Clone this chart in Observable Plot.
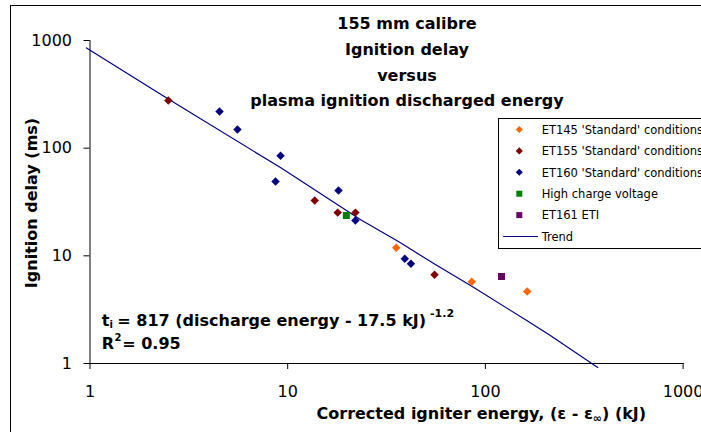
<!DOCTYPE html>
<html><head><meta charset="utf-8">
<script src="https://cdn.jsdelivr.net/npm/d3@7"></script>
<script src="https://cdn.jsdelivr.net/npm/@observablehq/plot@0.6"></script>
<style>
html,body{margin:0;padding:0;background:#fff;overflow:hidden}
#wrap{position:relative;width:701px;height:432px;overflow:hidden;background:#fff}
#wrap > svg{position:absolute;left:0;top:0}
#border{position:absolute;left:10px;top:5px;width:760px;height:500px;border:1px solid #000;box-sizing:border-box}
</style></head>
<body><div id="wrap"><div id="border"></div></div>
<script>
// ---- data ----
const et145X = [35.4, 85.3, 162.7];
const et145Y = [11.9, 5.74, 4.66];
const et155X = [2.49, 13.7, 17.9, 22.0, 55.3];
const et155Y = [277, 32.6, 25.2, 25.2, 6.66];
const et160X = [4.52, 5.57, 9.2, 8.68, 18.07, 22.0, 39.1, 42.0];
const et160Y = [219, 149, 85, 49, 40.4, 21.3, 9.38, 8.43];
const highX = [19.8];
const highY = [23.7];
const et161X = [120.6];
const et161Y = [6.43];
const trendX = [0.96, 2.50, 9.19, 23.4, 37.2, 54.8, 87.4, 162.7, 213, 370];
const trendY = [853, 284, 66.0, 21.6, 13.2, 8.48, 5.07, 2.49, 1.82, 0.92];
const xTicks = [1, 10, 100, 1000];
const yTicks = [1, 10, 100, 1000];
const titleLines = ["155 mm calibre", "Ignition delay", "versus", "plasma ignition discharged energy"];
const seriesNames = ["ET145 'Standard' conditions", "ET155 'Standard' conditions", "ET160 'Standard' conditions", "High charge voltage", "ET161 ETI", "Trend"];
const colors = {et145: "#FF6600", et155: "#800000", et160: "#000080", high: "#008000", et161: "#660066", trend: "#000080"};

const rows = (X, Y) => X.map((x, i) => ({x, y: Y[i]}));

const FONT = "DejaVu Sans";
const chart = Plot.plot({
  width: 701, height: 432,
  marginLeft: 89.5, marginRight: 18.4, marginTop: 40, marginBottom: 69,
  style: {fontFamily: FONT, fontSize: "16px", background: "transparent", color: "#000", overflow: "visible"},
  x: {type: "log", domain: [1, 1000], ticks: xTicks, tickFormat: d => String(d), tickSize: 6, tickPadding: 16, line: true, label: null},
  y: {type: "log", domain: [1, 1000], ticks: yTicks, tickFormat: d => String(d), tickSize: 6, tickPadding: 12, line: true, label: null},
  marks: [
    Plot.line(rows(trendX, trendY), {x: "x", y: "y", stroke: colors.trend, strokeWidth: 1.2}),
    Plot.dot(rows(et145X, et145Y), {x: "x", y: "y", symbol: "diamond2", r: 3.8, fill: colors.et145, stroke: "none"}),
    Plot.dot(rows(et155X, et155Y), {x: "x", y: "y", symbol: "diamond2", r: 3.8, fill: colors.et155, stroke: "none"}),
    Plot.dot(rows(et160X, et160Y), {x: "x", y: "y", symbol: "diamond2", r: 3.8, fill: colors.et160, stroke: "none"}),
    Plot.dot(rows(highX, highY), {x: "x", y: "y", symbol: "square", r: 3.95, fill: colors.high, stroke: "none"}),
    Plot.dot(rows(et161X, et161Y), {x: "x", y: "y", symbol: "square", r: 3.95, fill: colors.et161, stroke: "none"})
  ]
});
const wrap = document.getElementById("wrap");
wrap.appendChild(chart);

// ---- overlay: titles, annotation, legend ----
const NS = "http://www.w3.org/2000/svg";
const ov = document.createElementNS(NS, "svg");
ov.setAttribute("width", 701); ov.setAttribute("height", 432);
ov.style.position = "absolute"; ov.style.left = "0"; ov.style.top = "0";
ov.setAttribute("font-family", FONT);
wrap.appendChild(ov);
function txt(parent, x, y, s, attrs = {}) {
  const t = document.createElementNS(NS, "text");
  t.setAttribute("x", x); t.setAttribute("y", y);
  for (const k in attrs) t.setAttribute(k, attrs[k]);
  t.textContent = s; parent.appendChild(t); return t;
}
// chart title
titleLines.forEach((s, i) => txt(ov, 407, 29.3 + 25.6 * i, s, {"text-anchor": "middle", "font-weight": "bold", "font-size": 16}));
// y axis title
txt(ov, 0, 0, "Ignition delay (ms)", {"text-anchor": "middle", "font-weight": "bold", "font-size": 16, transform: "translate(36.7,203) rotate(-90)"});
// x axis title with subscript
const xt = document.createElementNS(NS, "text");
xt.setAttribute("x", 316.5); xt.setAttribute("y", 419); xt.setAttribute("font-weight", "bold"); xt.setAttribute("font-size", 16);
xt.innerHTML = 'Corrected igniter energy, (ε - ε<tspan font-size="11" dy="3">∞</tspan><tspan dy="-3">) (kJ)</tspan>';
ov.appendChild(xt);
// fit annotation
const ann = {"font-weight": "bold", "font-size": 16};
txt(ov, 101.7, 325.5, "t", ann);
txt(ov, 109.6, 327.5, "i", {"font-weight": "bold", "font-size": 10});
txt(ov, 117.3, 325.5, "= 817 (discharge energy - 17.5 kJ)", ann);
txt(ov, 430, 316.7, "-1.2", {"font-weight": "bold", "font-size": 11});
txt(ov, 101.7, 349, "R", ann);
txt(ov, 114.4, 340.7, "2", {"font-weight": "bold", "font-size": 10});
txt(ov, 122.2, 349, "= 0.95", ann);

// legend
const lg = document.createElementNS(NS, "g");
ov.appendChild(lg);
const box = document.createElementNS(NS, "rect");
box.setAttribute("x", 498.5); box.setAttribute("y", 118.5); box.setAttribute("width", 260); box.setAttribute("height", 130);
box.setAttribute("fill", "#fff"); box.setAttribute("stroke", "#000"); box.setAttribute("stroke-width", 1);
lg.appendChild(box);
const legendSym = [["diamond", colors.et145], ["diamond", colors.et155], ["diamond", colors.et160], ["square", colors.high], ["square", colors.et161], ["line", colors.trend]];
seriesNames.forEach((name, i) => {
  const cy = 129.5 + 21.4 * i;
  const [kind, c] = legendSym[i];
  if (kind === "line") {
    const l = document.createElementNS(NS, "line");
    l.setAttribute("x1", 503); l.setAttribute("x2", 538); l.setAttribute("y1", cy); l.setAttribute("y2", cy);
    l.setAttribute("stroke", c); l.setAttribute("stroke-width", 1.2); lg.appendChild(l);
  } else {
    const p = document.createElementNS(NS, "path");
    const sym = kind === "diamond" ? d3.symbolDiamond2 : d3.symbolSquare;
    const size = kind === "diamond" ? 32 : 36;
    p.setAttribute("d", d3.symbol(sym, size)());
    p.setAttribute("transform", `translate(519.3,${cy})`);
    p.setAttribute("fill", c); lg.appendChild(p);
  }
  txt(lg, 541.7, cy + 4.2, name, {"font-size": 11.5});
});
</script>
</body></html>
